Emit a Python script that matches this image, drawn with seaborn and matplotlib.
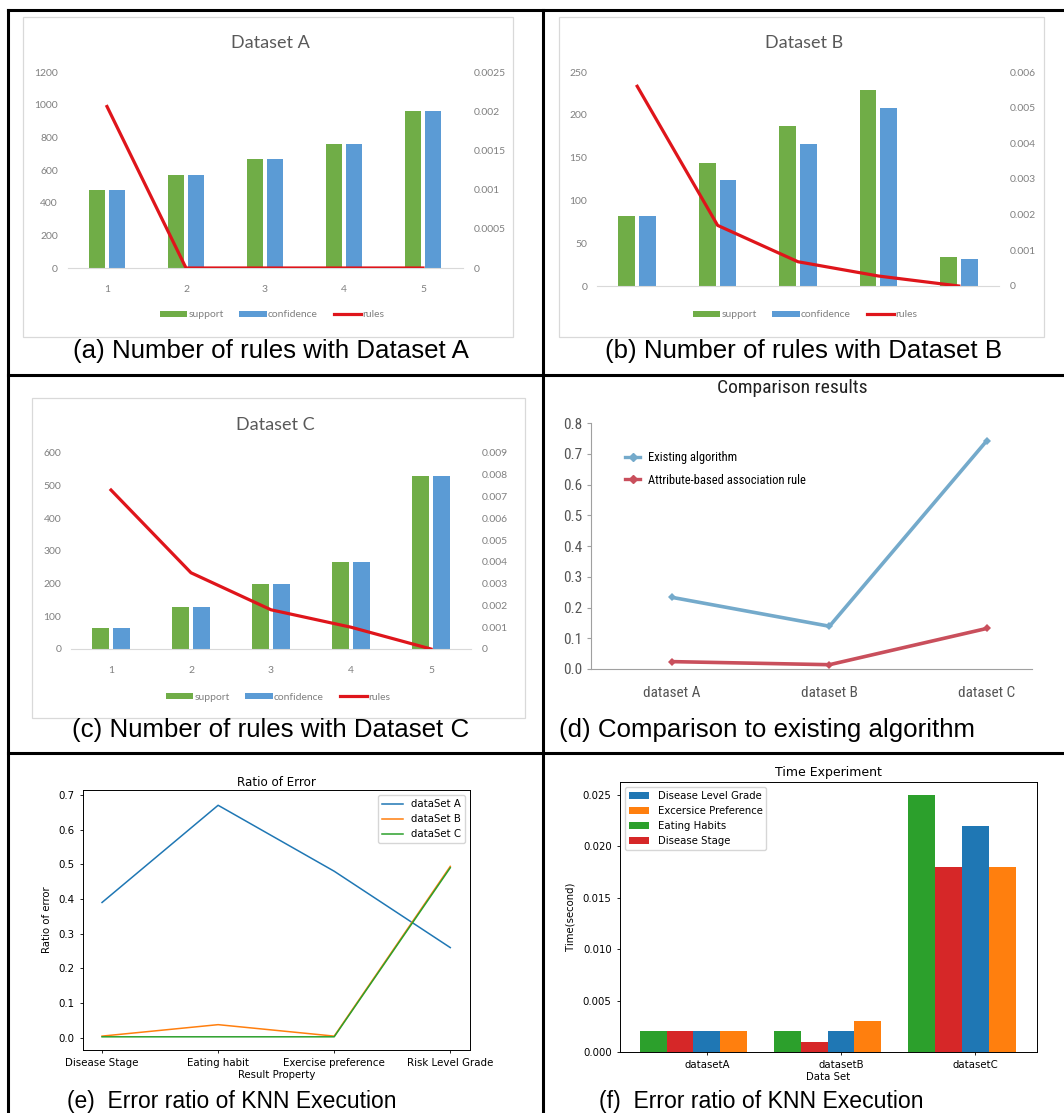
import numpy as np
import pandas as pd
import matplotlib
matplotlib.use("Agg")
import matplotlib.pyplot as plt
from matplotlib.patches import Rectangle, Patch
from matplotlib.lines import Line2D
from matplotlib import font_manager
import seaborn as sns

W, H = 1064, 1113

# ---- association-rule mining per support step ----
steps = ["1", "2", "3", "4", "5"]
support_a = [480, 570, 665, 760, 960]
confidence_a = [480, 570, 665, 760, 960]
rules_a = [0.00206, 0, 0, 0, 0]

support_b = [82, 144, 187, 229, 34]
confidence_b = [82, 124, 166, 208, 31]
rules_b = [0.0056, 0.0017, 0.00068, 0.00028, 0]

support_c = [65, 130, 198, 265, 530]
confidence_c = [65, 130, 198, 265, 530]
rules_c = [0.0073, 0.0035, 0.0018, 0.001, 0]

# ---- comparison with the existing algorithm ----
datasets = ["dataset A", "dataset B", "dataset C"]
existing_alg = [0.233, 0.139, 0.743]
attribute_rule = [0.024, 0.014, 0.132]

# ---- KNN error ratio ----
properties = ["Disease Stage", "Eating habit", "Exercise preference", "Risk Level Grade"]
err_a = [0.39, 0.67, 0.48, 0.26]
err_b = [0.005, 0.038, 0.005, 0.494]
err_c = [0.003, 0.003, 0.003, 0.49]

# ---- execution time ----
time_sets = ["datasetA", "datasetB", "datasetC"]
t_eating = [0.002, 0.002, 0.025]
t_stage = [0.002, 0.001, 0.018]
t_level = [0.002, 0.002, 0.022]
t_exercise = [0.002, 0.003, 0.018]

captions = [
    "(a) Number of rules with Dataset A",
    "(b) Number of rules with Dataset B",
    "(c) Number of rules with Dataset C",
    "(d) Comparison to existing algorithm",
    "(e)  Error ratio of KNN Execution",
    "(f)  Error ratio of KNN Execution",
]

GREEN, BLUE, RED = "#70AD47", "#5B9BD5", "#DF151B"
XL_TEXT = "#808080"

installed = {f.name for f in font_manager.fontManager.ttflist}
NARROW = next((n for n in ["Liberation Sans Narrow", "Roboto Condensed", "Open Sans Condensed"]
               if n in installed), "Liberation Sans")

fig = plt.figure(figsize=(W / 100, H / 100), dpi=100)
fig.patch.set_facecolor("white")


def axes_px(l, t, r, b):
    return fig.add_axes([l / W, 1 - b / H, (r - l) / W, (b - t) / H])


def fy(y):
    return 1 - y / H


def excel_panel(box, rect, title, title_xy, support, confidence, rules,
                lmax, lstep, rmax, rstep, show_x, legend_xy):
    bl, bt, br, bb = box
    fig.add_artist(Rectangle((bl / W, fy(bb)), (br - bl) / W, (bb - bt) / H,
                             transform=fig.transFigure, facecolor="white",
                             edgecolor="#D9D9D9", lw=0.9, zorder=0))
    ax = axes_px(*rect)
    ax.set_facecolor("none")
    df = pd.DataFrame({
        "step": steps * 2,
        "measure": ["support"] * len(steps) + ["confidence"] * len(steps),
        "value": list(support) + list(confidence),
    })
    sns.barplot(data=df, x="step", y="value", hue="measure",
                palette=[GREEN, BLUE], width=0.52, gap=0.2, saturation=1,
                ax=ax, legend=False)
    ax2 = ax.twinx()
    sns.lineplot(x=np.arange(len(steps)), y=rules, ax=ax2, color=RED, lw=2.3)
    ax.set_xlim(-0.5, len(steps) - 0.5)
    ax.set_ylim(0, lmax)
    ax2.set_ylim(0, rmax)
    lt = np.arange(0, lmax + lstep / 2, lstep)
    ax.set_yticks(lt)
    ax.set_yticklabels([f"{int(v)}" for v in lt])
    rt = np.round(np.arange(0, rmax + rstep / 2, rstep), 6)
    ax2.set_yticks(rt)
    ax2.set_yticklabels([f"{v:g}" for v in rt])
    for a in (ax, ax2):
        for s in a.spines.values():
            s.set_visible(False)
        a.set_xlabel("")
        a.set_ylabel("")
    ax.spines["bottom"].set_visible(True)
    ax.spines["bottom"].set_color("#D9D9D9")
    ax.tick_params(axis="both", length=0, labelsize=7.5, labelcolor=XL_TEXT)
    ax.tick_params(axis="y", pad=7)
    ax.tick_params(axis="x", pad=12)
    ax2.tick_params(axis="y", length=0, labelsize=7.5, labelcolor=XL_TEXT, pad=8)
    for t in ax.get_xticklabels() + ax.get_yticklabels() + ax2.get_yticklabels():
        t.set_family("Lato")
    if not show_x:
        ax.set_xticklabels([])
    fig.text(title_xy[0] / W, fy(title_xy[1]), title, ha="center", va="center",
             fontsize=13, color="#595959", family="Lato")
    handles = [Patch(facecolor=GREEN), Patch(facecolor=BLUE),
               Line2D([], [], color=RED, lw=2.3)]
    leg = ax.legend(handles, ["support", "confidence", "rules"], loc="center",
                    bbox_to_anchor=(legend_xy[0] / W, fy(legend_xy[1])),
                    bbox_transform=fig.transFigure, ncol=3, frameon=False,
                    handlelength=2.6, handleheight=0.6,
                    handletextpad=0.15, columnspacing=1.5,
                    prop={"family": "Lato", "size": 7.5})
    for t in leg.get_texts():
        t.set_color(XL_TEXT)


# (a) Dataset A
excel_panel((23, 17, 513, 337), (67.5, 72, 462.5, 268), "Dataset A", (270, 43),
            support_a, confidence_a, rules_a, 1200, 200, 0.0025, 0.0005, True, (272, 315))
# (b) Dataset B
excel_panel((559, 17, 1044, 337), (597, 72, 999, 286), "Dataset B", (804, 43),
            support_b, confidence_b, rules_b, 250, 50, 0.006, 0.001, False, (805, 315))
# (c) Dataset C
excel_panel((32, 398, 525, 718), (71, 453, 471, 649), "Dataset C", (275, 425),
            support_c, confidence_c, rules_c, 600, 100, 0.009, 0.001, True, (278, 697))

# (d) comparison results
axd = axes_px(591, 423, 1032, 669)
cmp_df = pd.DataFrame({
    "dataset": datasets * 2,
    "method": ["Existing algorithm"] * 3 + ["Attribute-based association rule"] * 3,
    "value": existing_alg + attribute_rule,
})
sns.lineplot(data=cmp_df, x="dataset", y="value", hue="method",
             palette=["#74AACB", "#C94F5C"], marker="D", markersize=4.5,
             markeredgewidth=0, lw=2.6, ax=axd, legend=False, sort=False)
axd.set_xlim(-0.514, 2.286)
axd.set_ylim(0, 0.8)
axd.set_yticks(np.round(np.arange(0, 0.81, 0.1), 1))
axd.set_yticklabels([f"{v:.1f}" for v in np.arange(0, 0.81, 0.1)])
axd.set_xlabel("")
axd.set_ylabel("")
for s in ("top", "right"):
    axd.spines[s].set_visible(False)
for s in ("left", "bottom"):
    axd.spines[s].set_color("#A0A0A0")
    axd.spines[s].set_linewidth(0.8)
axd.tick_params(axis="y", length=3, color="#A0A0A0", labelsize=11, labelcolor="#555555", pad=3)
axd.tick_params(axis="x", length=0, labelsize=11, labelcolor="#555555", pad=12)
for t in axd.get_xticklabels() + axd.get_yticklabels():
    t.set_family(NARROW)
fig.text(792 / W, fy(388), "Comparison results", ha="center", va="center",
         fontsize=14, color="#222222", family=NARROW)
d_handles = [Line2D([], [], color="#74AACB", lw=2.4, marker="D", markersize=4.5),
             Line2D([], [], color="#C94F5C", lw=2.4, marker="D", markersize=4.5)]
axd.legend(d_handles, ["Existing algorithm", "Attribute-based association rule"],
           loc="upper left", bbox_to_anchor=(614 / W, fy(440)),
           bbox_transform=fig.transFigure, frameon=False, handlelength=1.2,
           handletextpad=0.6, labelspacing=0.75,
           prop={"family": NARROW, "size": 9})

# (e) KNN error ratio
axe = axes_px(83, 790, 470, 1050)
err_df = pd.DataFrame({
    "property": properties * 3,
    "set": ["dataSet A"] * 4 + ["dataSet B"] * 4 + ["dataSet C"] * 4,
    "ratio": err_a + err_b + err_c,
})
sns.lineplot(data=err_df, x="property", y="ratio", hue="set",
             palette=["#1f77b4", "#ff7f0e", "#2ca02c"], lw=1.1, ax=axe, sort=False)
axe.set_xlim(-0.164, 3.17)
axe.set_ylim(-0.035, 0.714)
axe.set_yticks(np.round(np.arange(0, 0.71, 0.1), 1))
h, l = axe.get_legend_handles_labels()
axe.legend(h, l, loc="upper right", fontsize=7.3)
axe.set_title("Ratio of Error", fontsize=8.6, pad=3)
axe.set_xlabel("Result Property", fontsize=7.3, labelpad=1)
axe.set_ylabel("Ratio of error", fontsize=7.3, labelpad=5)
axe.tick_params(labelsize=7.4, length=2.5, width=0.6)
for s in axe.spines.values():
    s.set_linewidth(0.7)

# (f) execution time
axf = axes_px(620, 782, 1037, 1052)
time_df = pd.DataFrame({
    "set": time_sets * 4,
    "attr": ["Eating Habits"] * 3 + ["Disease Stage"] * 3
            + ["Disease Level Grade"] * 3 + ["Excersice Preference"] * 3,
    "time": t_eating + t_stage + t_level + t_exercise,
})
hue_order = ["Eating Habits", "Disease Stage", "Disease Level Grade", "Excersice Preference"]
sns.barplot(data=time_df, x="set", y="time", hue="attr", hue_order=hue_order,
            palette=["#2ca02c", "#d62728", "#1f77b4", "#ff7f0e"], saturation=1,
            width=0.8, ax=axf)
axf.set_xticks(np.arange(len(time_sets)) + 0.1)
axf.set_xticklabels(time_sets)
axf.set_xlim(-0.547, 2.56)
axf.set_ylim(0, 0.02625)
axf.set_yticks(np.round(np.arange(0, 0.0251, 0.005), 3))
axf.set_yticklabels([f"{v:.3f}" for v in np.arange(0, 0.0251, 0.005)])
h, l = axf.get_legend_handles_labels()
order = [l.index(n) for n in ["Disease Level Grade", "Excersice Preference",
                              "Eating Habits", "Disease Stage"]]
axf.legend([h[i] for i in order], [l[i] for i in order], loc="upper left", fontsize=7.3)
axf.set_title("Time Experiment", fontsize=9, pad=4)
axf.set_xlabel("Data Set", fontsize=7.3, labelpad=1)
axf.set_ylabel("Time(second)", fontsize=7.3, labelpad=5)
axf.tick_params(labelsize=7.3, length=2.5, width=0.6)
for s in axf.spines.values():
    s.set_linewidth(0.7)

# ---- table grid and captions ----
grid_kw = dict(transform=fig.transFigure, color="black", lw=2.2)
for x in (8, 543):
    fig.add_artist(Line2D([x / W, x / W], [fy(10), 0], **grid_kw))
for y in (10, 375, 753):
    fig.add_artist(Line2D([8 / W, 1], [fy(y), fy(y)], **grid_kw))

cap_font = dict(family="Liberation Sans", color="black")
fig.text(271 / W, fy(358), captions[0], ha="center", va="baseline", fontsize=18.6, **cap_font)
fig.text(804 / W, fy(358), captions[1], ha="center", va="baseline", fontsize=18.6, **cap_font)
fig.text(271 / W, fy(737), captions[2], ha="center", va="baseline", fontsize=18.6, **cap_font)
fig.text(559 / W, fy(737), captions[3], ha="left", va="baseline", fontsize=18.6, **cap_font)
fig.text(67 / W, fy(1108), captions[4], ha="left", va="baseline", fontsize=16.5, **cap_font)
fig.text(599 / W, fy(1108), captions[5], ha="left", va="baseline", fontsize=16.6, **cap_font)

fig.savefig("out.png", dpi=100, facecolor="white")
